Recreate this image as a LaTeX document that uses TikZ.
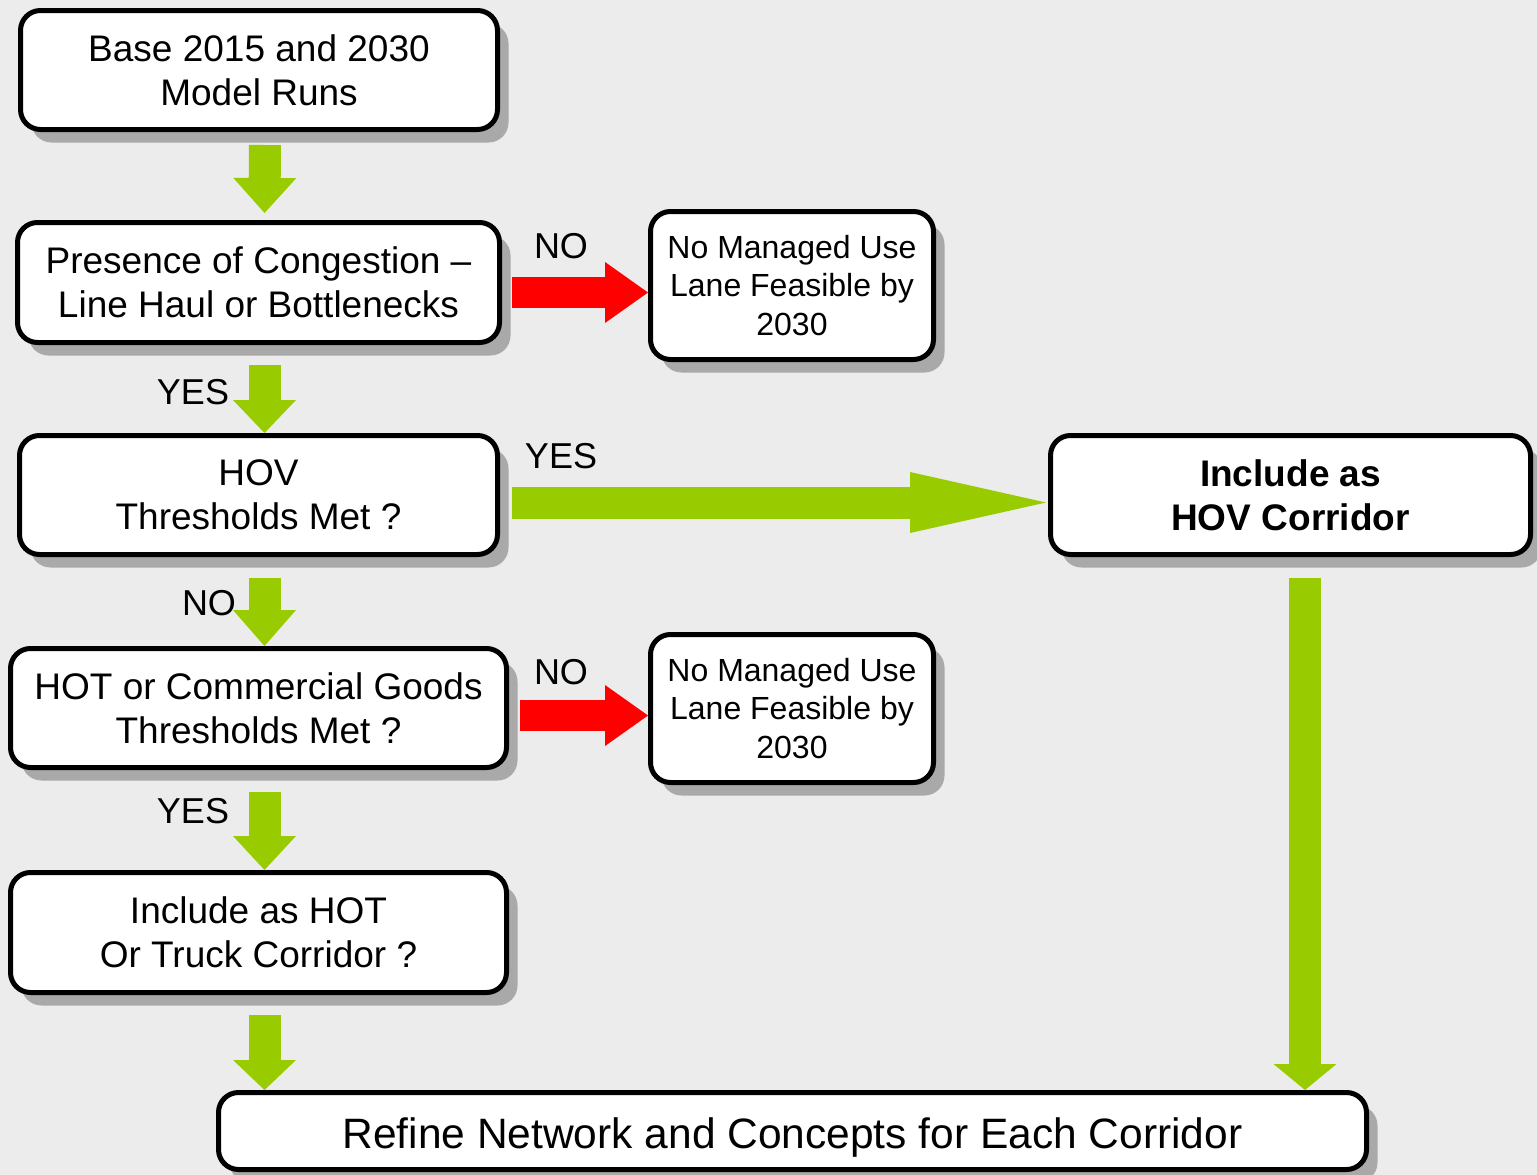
\documentclass[tikz,border=0pt]{standalone}
\usepackage{fontspec}
\setmainfont{Liberation Sans}
\usetikzlibrary{arrows.meta,shadows,calc}

\definecolor{arrowgreen}{HTML}{99CC00}
\definecolor{arrowred}{HTML}{FF0000}
\definecolor{shadowgray}{HTML}{A9A9A9}
\definecolor{bgcolor}{HTML}{ECECEC}

\begin{document}
\begin{tikzpicture}[x=1pt,y=-1pt,
  box/.style={draw=black, line width=5pt, rounded corners=20pt, fill=white,
    align=center, inner sep=0pt, font=\fontsize{37}{44}\selectfont,
    general shadow={fill=shadowgray, shadow xshift=11pt, shadow yshift=-13pt}},
  smallbox/.style={box, font=\fontsize{32}{38.5}\selectfont},
  lbl/.style={font=\fontsize{36}{40}\selectfont, inner sep=0pt},
  garrow/.style={draw=arrowgreen, line width=32pt},
  rarrow/.style={draw=arrowred, line width=31pt},
  vtip/.style={-{Triangle[length=#1,width=63pt,line width=0pt]}},
  htip/.style={-{Triangle[length=#1,width=61pt,line width=0pt]}}
]
% backdrop
\fill[bgcolor] (0,0) rectangle (1537,1175);
\useasboundingbox (0,0) rectangle (1537,1175);

% decision and outcome boxes
\node[box, minimum width=477pt, minimum height=119pt] (base) at (259,70)
  {Base 2015 and 2030\\Model Runs};
\node[box, minimum width=482pt, minimum height=120pt] (pres) at (258.5,282.5)
  {Presence of Congestion --\\Line Haul or Bottlenecks};
\node[smallbox, minimum width=283pt, minimum height=148pt] (nm1) at (792,285.5)
  {No Managed Use\\Lane Feasible by\\2030};
\node[box, minimum width=478pt, minimum height=119pt] (hov) at (258.5,495)
  {HOV\\Thresholds Met ?};
\node[box, minimum width=480pt, minimum height=119pt, font=\fontsize{37}{44}\selectfont\bfseries] (inchov) at (1290.5,495)
  {Include as\\HOV Corridor};
\node[box, minimum width=496pt, minimum height=119pt] (hot) at (258.5,708)
  {HOT or Commercial Goods\\Thresholds Met ?};
\node[smallbox, minimum width=283pt, minimum height=148pt] (nm2) at (792,708.5)
  {No Managed Use\\Lane Feasible by\\2030};
\node[box, minimum width=496pt, minimum height=120pt] (inchot) at (258.5,932.5)
  {Include as HOT\\Or Truck Corridor ?};
\node[box, minimum width=1148pt, minimum height=77pt, text height=43pt, text depth=9pt,
  font=\fontsize{42.5}{48}\selectfont] (refine) at (792.5,1131)
  {Refine Network and Concepts for Each Corridor};

% main flow arrows, running a little right of the box centres
\draw[garrow, vtip=35pt, shorten <=13pt, shorten >=7pt]
  ([xshift=6pt]base.south) -- ([xshift=6pt]pres.north);
\draw[garrow, vtip=33pt, shorten <=20pt]
  ([xshift=6pt]pres.south) -- ([xshift=6pt]hov.north);
\draw[garrow, vtip=36pt, shorten <=21pt]
  ([xshift=6pt]hov.south) -- ([xshift=6pt]hot.north);
\draw[garrow, vtip=34pt, shorten <=22pt]
  ([xshift=6pt]hot.south) -- ([xshift=6pt]inchot.north);
\draw[garrow, vtip=30pt, shorten <=20pt]
  ([xshift=6pt]inchot.south) -- ([xshift=6pt]inchot.south |- refine.north);
\draw[garrow, vtip=26pt, shorten <=21pt]
  ([xshift=14.5pt]inchov.south) -- ([xshift=14.5pt]inchov.south |- refine.north);

% side branches
\draw[rarrow, htip=43pt, shorten <=10pt]
  ([yshift=-10pt]pres.east) -- ([yshift=-10pt]pres.east -| nm1.west);
\draw[rarrow, htip=43pt, shorten <=11pt]
  ([yshift=-7.5pt]hot.east) -- ([yshift=-7.5pt]hot.east -| nm2.west);
\draw[garrow, htip=136pt, shorten <=12pt, shorten >=2pt]
  ([yshift=-7.5pt]hov.east) -- ([yshift=-7.5pt]hov.east -| inchov.west);

% branch labels
\node[lbl] (no1) at (561,246) {NO};
\node[lbl] (yes1) at (193,392) {YES};
\node[lbl] (yes2) at (561,456) {YES};
\node[lbl] (no2) at (209,603) {NO};
\node[lbl] (no3) at (561,672) {NO};
\node[lbl] (yes3) at (193,811) {YES};
\end{tikzpicture}
\end{document}
